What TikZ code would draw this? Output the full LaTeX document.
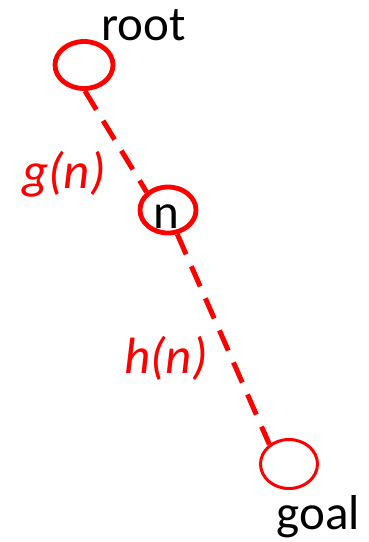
\documentclass[tikz,border=0pt]{standalone}
\usepackage{fontspec}
\setmainfont{Carlito}
\usetikzlibrary{shapes.geometric}
\definecolor{pred}{RGB}{255,0,0}
\tikzset{
  treenode/.style={draw=pred, ellipse, inner sep=0pt, line width=4.8pt},
  lbl/.style={anchor=base, inner sep=0pt, font=\fontsize{49}{58}\selectfont},
  redlbl/.style={lbl, text=pred, font=\fontsize{51}{60}\selectfont\itshape},
  edgeline/.style={draw=pred, line width=5pt, dash pattern=on 22pt off 13pt}
}
\begin{document}
\begin{tikzpicture}[x=1pt,y=-1pt]
\useasboundingbox (0,0) rectangle (369,542);
\node[treenode, minimum width=58pt, minimum height=47pt] (root) at (84,65) {};
\node[treenode, minimum width=56pt, minimum height=46pt] (n) at (168,210) {};
\node[treenode, line width=3pt, minimum width=57pt, minimum height=49pt] (goal) at (289,464) {};
\node[lbl] (rootlbl) at (143.5,40) {root};
\node[lbl] (nlbl) at (166,228) {n};
\node[lbl] (goallbl) at (318.5,529) {goal};
\node[redlbl] (glbl) at (64,188) {g(n)};
\node[redlbl] (hlbl) at (166,373) {h(n)};
\draw[edgeline] (root.272) -- (n.140);
\draw[edgeline] (n.291) -- (goal.135);
\end{tikzpicture}
\end{document}
